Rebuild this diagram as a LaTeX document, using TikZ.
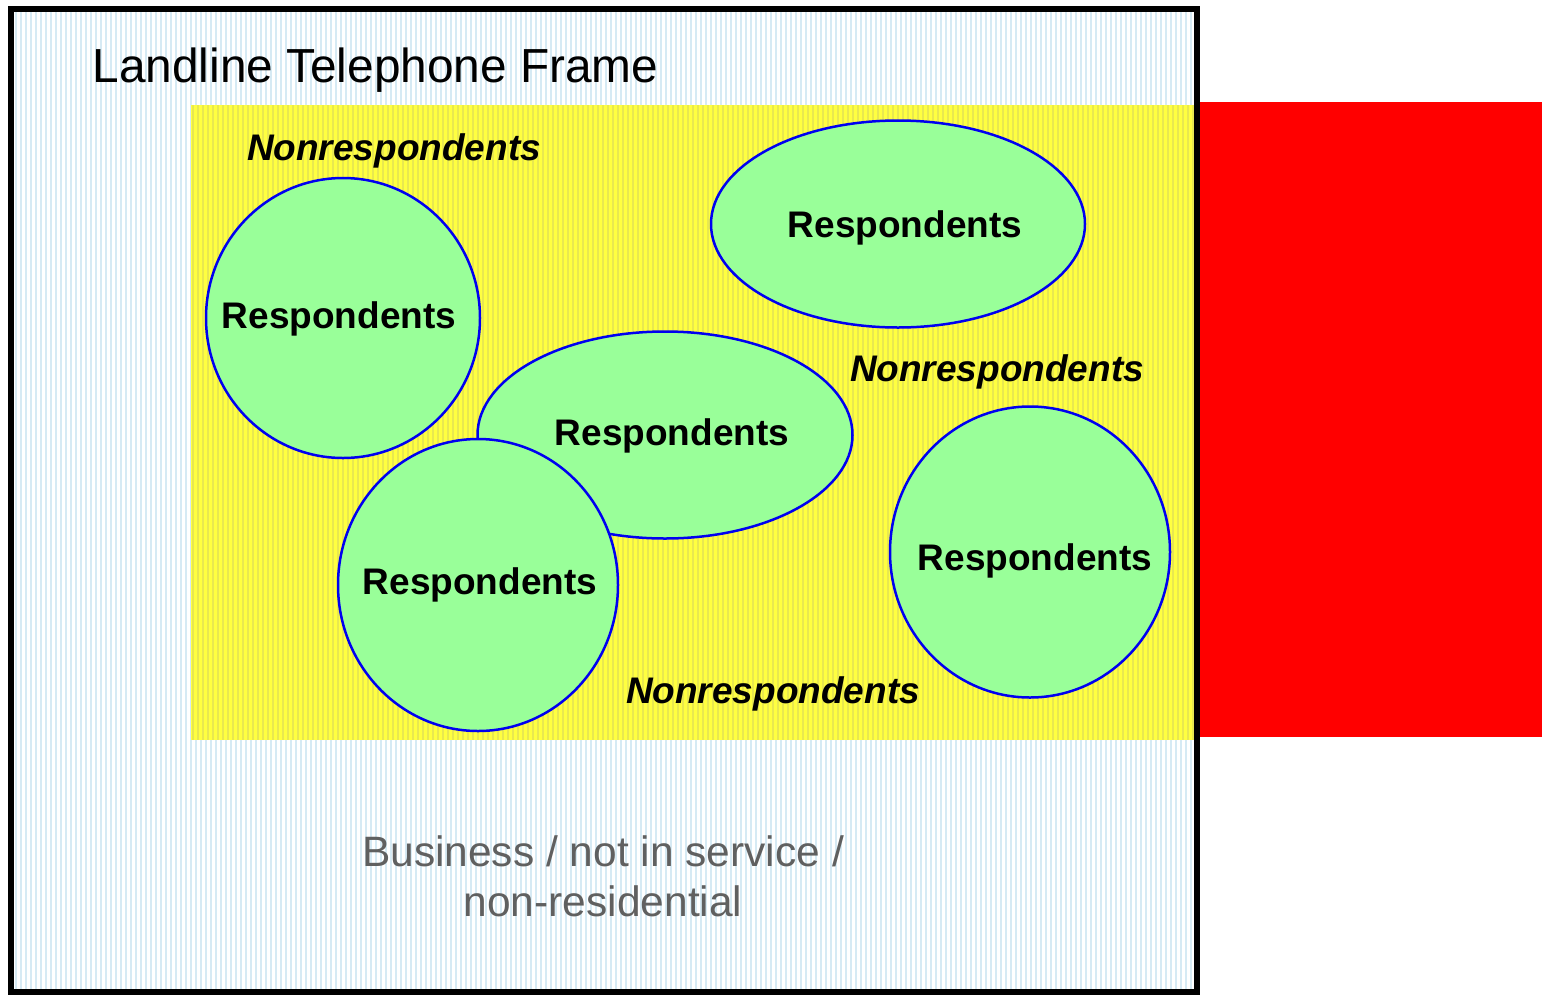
\documentclass[tikz,border=0pt]{standalone}
\usepackage{fontspec}
\setmainfont{Liberation Sans}
\usepackage{xcolor}
\usepackage{tikz}
\usetikzlibrary{shapes}
\definecolor{stripeblue}{RGB}{214,234,244}
\definecolor{areayellow}{RGB}{255,255,64}
\definecolor{stripeyellow}{RGB}{232,232,80}
\definecolor{respgreen}{RGB}{153,255,153}
\definecolor{respblue}{RGB}{0,0,240}
\definecolor{labelgray}{RGB}{96,96,96}
\tikzstyle{resp} = [ellipse, draw=respblue, line width=2.5pt, fill=respgreen, inner sep=0pt]
\tikzstyle{resptext} = [font=\fontsize{37}{44}\selectfont\bfseries, anchor=base]
\tikzstyle{nonresp} = [font=\fontsize{37}{44}\selectfont\bfseries\itshape, anchor=base]
\tikzstyle{bluestripe} = [draw=stripeblue, line width=1.2pt]
\tikzstyle{yellowstripe} = [draw=stripeyellow, line width=1.2pt]

\begin{document}
\begin{tikzpicture}[x=1pt, y=-1pt]
	\useasboundingbox (0,0) rectangle (1542,994);
	% Frame background
	\fill[white] (11,8.5) rectangle (1196.5,991.5);
	\foreach \x in {16,21,...,1194}
		\path [bluestripe] (\x,11) -- (\x,989);
	% Eligible households
	\fill[areayellow] (191,105) rectangle (1196,740);
	\foreach \x in {193,198,...,1194}
		\path [yellowstripe] (\x,105) -- (\x,740);
	% Cell-only part
	\fill[red] (1200,102) rectangle (1542,737);
	\draw[line width=6pt] (11,8.5) rectangle (1196.5,991.5);

	% Place nodes
	\node [font=\fontsize{47.8}{56}\selectfont, anchor=base west] (frameTitle) at (89,82) {Landline Telephone Frame};
	\node [resp, minimum width=274pt, minimum height=280pt] (leftResp) at (343,318) {};
	\node [resp, minimum width=374pt, minimum height=207pt] (topResp) at (898,224) {};
	\node [resp, minimum width=375pt, minimum height=207pt] (midResp) at (665,435) {};
	\node [resp, minimum width=280pt, minimum height=292pt] (lowResp) at (478,585) {};
	\node [resp, minimum width=280pt, minimum height=291pt] (rightResp) at (1030,552) {};

	\node [resptext] (leftText) at (339,328) {Respondents};
	\node [resptext] (topText) at (905,237) {Respondents};
	\node [resptext] (midText) at (672,445) {Respondents};
	\node [resptext] (lowText) at (480,594) {Respondents};
	\node [resptext] (rightText) at (1035,570) {Respondents};

	\node [nonresp] (nonrespA) at (394,160) {Nonrespondents};
	\node [nonresp] (nonrespB) at (997,381) {Nonrespondents};
	\node [nonresp] (nonrespC) at (773,703) {Nonrespondents};

	\node [font=\fontsize{42.5}{50}\selectfont, text=labelgray, align=center] (outOfScope) at (603,876) {Business / not in service /\\non-residential};
\end{tikzpicture}
\end{document}
